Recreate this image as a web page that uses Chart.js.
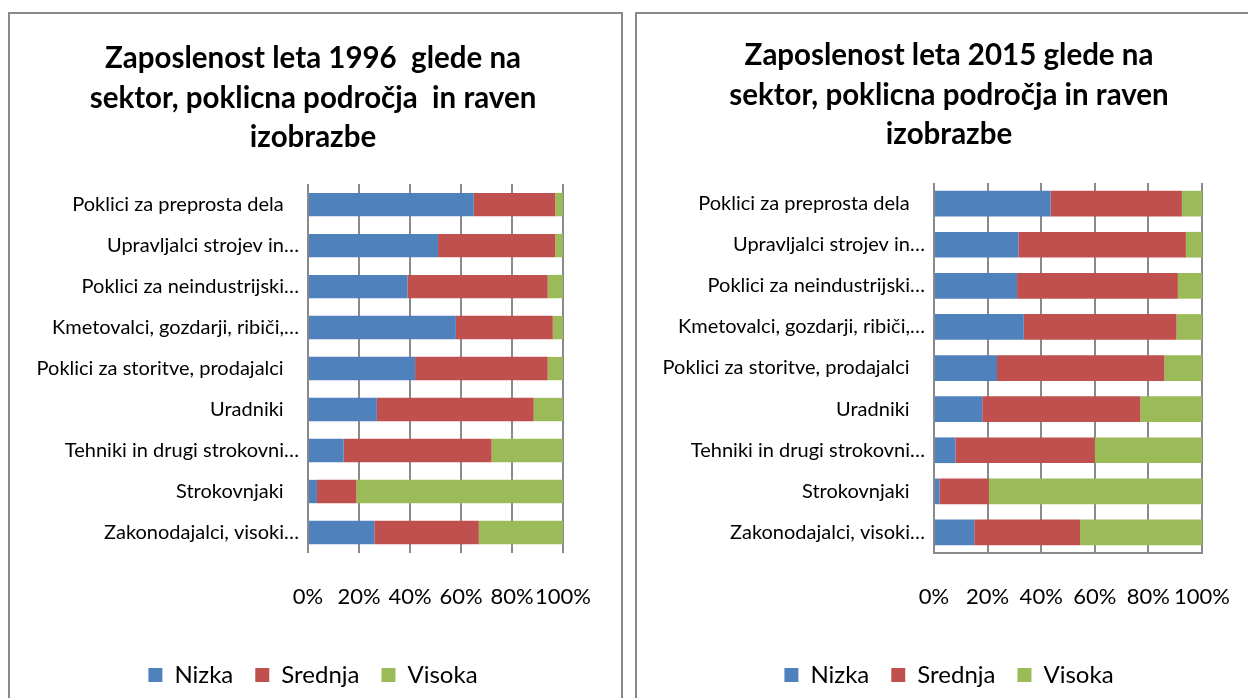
<!DOCTYPE html>
<html lang="sl">
<head>
<meta charset="UTF-8">
<title>Zaposlenost glede na raven izobrazbe</title>
<script src="https://cdn.jsdelivr.net/npm/chart.js"></script>
<style>
    html, body { margin: 0; padding: 0; background: #fff; overflow: hidden; }
    body { width: 1248px; height: 698px; position: relative; }
    .panel {
        position: absolute;
        top: 12px;
        height: 800px;
        border: 2px solid #8a8a8a;
        box-sizing: border-box;
        background: #fff;
        overflow: hidden;
    }
    #panel1996 { left: 8px; width: 615px; }
    #panel2015 { left: 635px; width: 700px; }
    .panel canvas { position: absolute; left: 0; top: 0; }
</style>
</head>
<body>
    <div class="panel" id="panel1996"><canvas id="chart1996"></canvas></div>
    <div class="panel" id="panel2015"><canvas id="chart2015"></canvas></div>

    <script>
        // poklicna področja (od zgoraj navzdol)
        var categories = [
            'Poklici za preprosta dela',
            'Upravljalci strojev in…',
            'Poklici za neindustrijski…',
            'Kmetovalci, gozdarji, ribiči,…',
            'Poklici za storitve, prodajalci',
            'Uradniki',
            'Tehniki in drugi strokovni…',
            'Strokovnjaki',
            'Zakonodajalci, visoki…'
        ];

        var seriesNames = ['Nizka', 'Srednja', 'Visoka'];
        var seriesColors = ['#4F81BD', '#C0504D', '#9BBB59'];

        // deleži v % po ravni izobrazbe, leto 1996
        var nizka1996   = [65, 51, 39, 58, 42, 27, 14, 3.5, 26];
        var srednja1996 = [32, 46, 55, 38, 52, 61.5, 58, 15.5, 41];
        var visoka1996  = [3, 3, 6, 4, 6, 11.5, 28, 81, 33];

        // leto 2015
        var nizka2015   = [43.5, 31.5, 31, 33.5, 23.5, 18, 8, 2, 15];
        var srednja2015 = [49, 62.5, 60, 57, 62.5, 59, 52, 18.5, 39.5];
        var visoka2015  = [7.5, 6, 9, 9.5, 14, 23, 40, 79.5, 45.5];

        var xTicks = [0, 20, 40, 60, 80, 100];

        var title1996 = ['Zaposlenost leta 1996  glede na', 'sektor, poklicna področja  in raven', 'izobrazbe'];
        var title2015 = ['Zaposlenost leta 2015 glede na', 'sektor, poklicna področja in raven', 'izobrazbe'];

        var FONT = "Lato, 'Open Sans', sans-serif";

        function makeChart(id, titleLines, values, cfg) {
            var canvas = document.getElementById(id);
            canvas.width = cfg.width;
            canvas.height = cfg.height;
            canvas.style.width = cfg.width + 'px';
            canvas.style.height = cfg.height + 'px';

            var datasets = seriesNames.map(function (name, i) {
                return {
                    label: name,
                    data: values[i],
                    backgroundColor: seriesColors[i],
                    borderWidth: 0,
                    barPercentage: cfg.barPct,
                    categoryPercentage: 1
                };
            });

            return new Chart(canvas.getContext('2d'), {
                type: 'bar',
                data: { labels: categories, datasets: datasets },
                options: {
                    indexAxis: 'y',
                    responsive: false,
                    animation: false,
                    events: [],
                    layout: { padding: { left: 0, right: 0, top: 0, bottom: 1 } },
                    plugins: {
                        title: {
                            display: true,
                            text: titleLines,
                            color: '#000',
                            font: { family: FONT, size: 29.5, weight: 'bold', lineHeight: 1.34 },
                            padding: { top: cfg.titleTop, bottom: cfg.titleBottom }
                        },
                        legend: {
                            display: true,
                            position: 'bottom',
                            labels: {
                                color: '#000',
                                font: { family: FONT, size: 24 },
                                boxWidth: 14,
                                boxHeight: 14,
                                padding: 22
                            }
                        },
                        tooltip: { enabled: false }
                    },
                    scales: {
                        x: {
                            stacked: true,
                            min: 0,
                            max: 100,
                            afterBuildTicks: function (scale) {
                                scale.ticks = xTicks.map(function (v) { return { value: v }; });
                            },
                            afterFit: function (scale) { scale.height = 88; },
                            // invisible tick marks keep the % labels away from the bars
                            grid: {
                                display: true, color: '#8a8a8a', lineWidth: 2,
                                drawTicks: true, tickLength: 31, tickColor: 'rgba(0,0,0,0)'
                            },
                            border: { display: cfg.bottomLine, color: '#8a8a8a', width: 2 },
                            ticks: {
                                autoSkip: false,
                                maxRotation: 0,
                                padding: 0,
                                color: '#000',
                                font: { family: FONT, size: 22 },
                                callback: function (v) { return v + '%'; }
                            }
                        },
                        y: {
                            stacked: true,
                            afterFit: function (scale) { scale.width = cfg.axisLeft; },
                            grid: { display: false, drawTicks: false },
                            border: { display: false },
                            ticks: {
                                autoSkip: false,
                                padding: 9,
                                color: '#000',
                                font: { family: FONT, size: 20 },
                                // labels that are not cut off stand a bit further from the axis
                                callback: function (v, i) {
                                    var s = categories[i];
                                    return s.slice(-1) === '…' ? s : s + '   ';
                                }
                            }
                        },
                        // empty scale on the right that only reserves room after 100%
                        pad: {
                            type: 'linear',
                            position: 'right',
                            display: true,
                            afterFit: function (scale) { scale.width = cfg.rightRoom; },
                            grid: { display: false, drawTicks: false },
                            border: { display: false },
                            ticks: { display: false }
                        }
                    }
                }
            });
        }

        makeChart('chart1996', title1996, [nizka1996, srednja1996, visoka1996], {
            width: 606, height: 684,
            axisLeft: 298, rightRoom: 53,
            titleTop: 25, titleBottom: 26.5,
            barPct: 0.57, bottomLine: false
        });

        makeChart('chart2015', title2015, [nizka2015, srednja2015, visoka2015], {
            width: 624, height: 684,
            axisLeft: 297, rightRoom: 59,
            titleTop: 22, titleBottom: 28.5,
            barPct: 0.625, bottomLine: true
        });
    </script>
</body>
</html>
